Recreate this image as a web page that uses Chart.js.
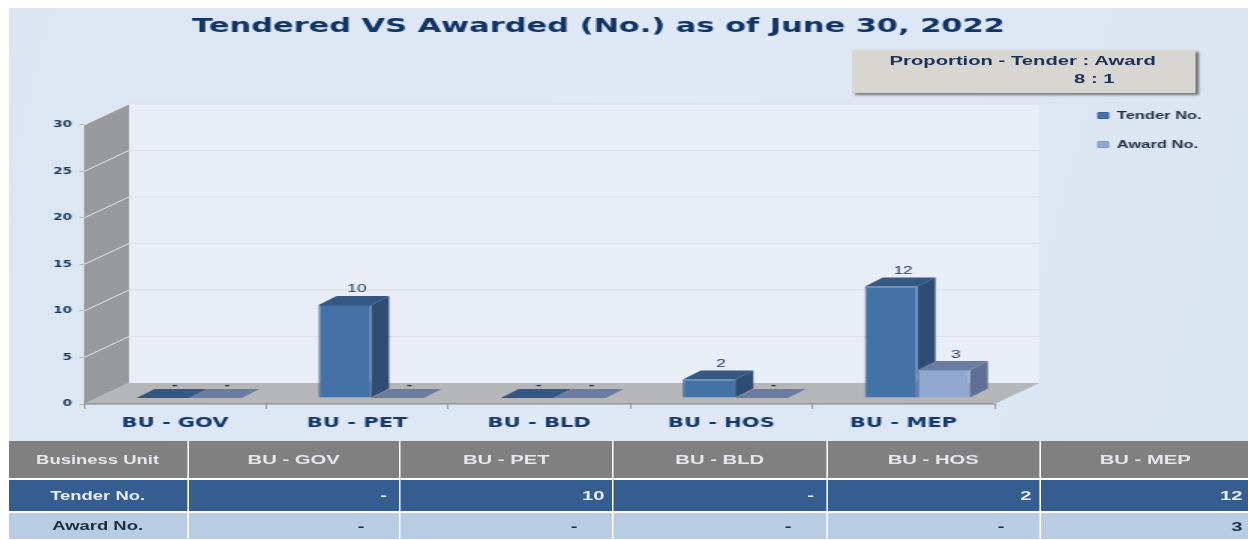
<!DOCTYPE html>
<html>
<head>
<meta charset="utf-8">
<script src="https://cdn.jsdelivr.net/npm/chart.js@4"></script>
<style>
  html, body { margin: 0; padding: 0; background: #fff; overflow: hidden; }
  /* the reference is a squeezed screenshot stretched wide, so the whole stage is stretched too */
  #stage { position: relative; width: 832px; height: 540px; transform: scaleX(1.5); transform-origin: 0 0;
           font-family: "Liberation Sans", Arial, sans-serif; }
  #bg { position: absolute; left: 5.5px; top: 8px; right: 0; height: 532px;
        background: linear-gradient(100deg, #dce6f3 0%, #dfe8f4 50%, #dae5f2 100%); }
  #graph { position: absolute; left: 0; top: 0; }
  #proportion { position: absolute; left: 568px; top: 50px; width: 229px; height: 43px; background: #d8d6d1;
                box-shadow: 2px 2px 2px #777; color: #1c3157; font-weight: bold; font-size: 13.5px; line-height: 18px; }
  #proportion div { position: absolute; white-space: nowrap; }
  #dataTable { position: absolute; left: 5.5px; top: 441px; width: 826.5px; table-layout: fixed;
               border-collapse: collapse; font-size: 13.5px; }
  #dataTable td { border: 1.4px solid #fff; border-width: 0 1.4px 2px 1.4px; padding: 0 5px 0 0; text-align: right;
                  font-weight: bold; box-sizing: border-box; }
  #dataTable td:first-child { text-align: center; border-left: 0; padding: 0; font-size: 12.3px; }
  #dataTable tr.head td { background: #808080; color: #e4e6ea; text-align: center; height: 38px; padding: 0; }
  #dataTable tr.tender td { background: #355d90; color: #e6ecf4; height: 33px; }
  #dataTable tr.award td { background: #b8cce4; color: #1f2d44; height: 28px; }
  #dataTable tr.tender td.dash { padding-right: 8px; }
  #dataTable tr.award td.dash { padding-right: 23px; }
</style>
</head>
<body>
<div id="stage">
  <div id="bg"></div>
  <canvas id="graph" width="832" height="440"></canvas>
  <div id="proportion">
    <div style="left:25px;top:2px">Proportion - Tender : Award</div>
    <div style="left:148px;top:20px">8 : 1</div>
  </div>
  <table id="dataTable"></table>
</div>
<script>
const chartTitle = 'Tendered VS Awarded (No.) as of June 30, 2022';
const categories = ['BU - GOV', 'BU - PET', 'BU - BLD', 'BU - HOS', 'BU - MEP'];
const tenderValues = [0, 10, 0, 2, 12];
const awardValues = [0, 0, 0, 0, 3];
const seriesNames = ['Tender No.', 'Award No.'];
const tableHeader = 'Business Unit';

const navy = '#17375e';
// depth of the fake 3D box and of the bars, in canvas pixels
const wallX = 30, wallY = 21;
const barX = 12, barY = 9;
const shiftX = 9.3, shiftY = 6;

const faceColors = [
  { top: '#345783', side: '#2f4c74' },
  { top: '#6a7da0', side: '#5f7094' }
];

function polygon(ctx, points, fill, stroke) {
  ctx.beginPath();
  points.forEach((p, i) => (i ? ctx.lineTo(p[0], p[1]) : ctx.moveTo(p[0], p[1])));
  ctx.closePath();
  ctx.fillStyle = fill;
  ctx.fill();
  if (stroke) {
    ctx.strokeStyle = stroke;
    ctx.lineWidth = 1;
    ctx.stroke();
  }
}

function CreateBoxPlugin() {
  return {
    id: 'boxPlugin',
    afterLayout: (chart) => {
      // title and legend sit outside the plot, where the layout does not put them
      chart.titleBlock.left = 0;
      chart.titleBlock.right = 798;
      chart.legend.left = 714;
      chart.legend.right = 832;
      chart.legend.top = 92;
      chart.legend.bottom = 200;
    },
    beforeDraw: (chart) => {
      const ctx = chart.ctx;
      const { left, right, top, bottom } = chart.chartArea;
      const yAxis = chart.scales.y;

      polygon(ctx, [[left + wallX, top - wallY], [right + wallX, top - wallY], [right + wallX, bottom - wallY], [left + wallX, bottom - wallY]], '#e8edf6');
      polygon(ctx, [[left, top], [left + wallX, top - wallY], [left + wallX, bottom - wallY], [left, bottom]], '#98999b');
      polygon(ctx, [[left, bottom], [left + wallX, bottom - wallY], [right + wallX, bottom - wallY], [right, bottom]], '#b4b6b8');

      yAxis.ticks.forEach((tick) => {
        const y = yAxis.getPixelForValue(tick.value);
        if (tick.value > 0) {
          ctx.strokeStyle = '#e0dee6';
          ctx.lineWidth = 1;
          ctx.beginPath();
          ctx.moveTo(left + wallX, y - wallY);
          ctx.lineTo(right + wallX, y - wallY);
          ctx.stroke();
          ctx.strokeStyle = '#e4e6ea';
          ctx.beginPath();
          ctx.moveTo(left, y);
          ctx.lineTo(left + wallX, y - wallY);
          ctx.stroke();
        }
      });
      ctx.strokeStyle = '#7f8183';
      ctx.lineWidth = 1;
      ctx.beginPath();
      ctx.moveTo(left, bottom);
      ctx.lineTo(right, bottom);
      ctx.stroke();
    },
    beforeDatasetsDraw: (chart) => {
      const ctx = chart.ctx;
      ctx.save();
      ctx.translate(shiftX, -shiftY);
      // top and side faces first, the library then draws the front faces over them
      chart.data.datasets.forEach((ds, i) => {
        chart.getDatasetMeta(i).data.forEach((bar) => {
          const x0 = bar.x - bar.width / 2;
          const x1 = bar.x + bar.width / 2;
          polygon(ctx, [[x0, bar.y], [x0 + barX, bar.y - barY], [x1 + barX, bar.y - barY], [x1, bar.y]], faceColors[i].top);
          polygon(ctx, [[x1, bar.y], [x1 + barX, bar.y - barY], [x1 + barX, bar.base - barY], [x1, bar.base]], faceColors[i].side);
        });
      });
    },
    afterDatasetsDraw: (chart) => {
      const ctx = chart.ctx;
      chart.data.datasets.forEach((ds, i) => {
        chart.getDatasetMeta(i).data.forEach((bar, j) => {
          const value = ds.data[j];
          ctx.fillStyle = navy;
          ctx.font = (value ? '' : 'bold ') + '11.5px "Liberation Sans"';
          ctx.textAlign = 'center';
          ctx.textBaseline = 'bottom';
          ctx.fillText(value ? String(value) : '-', bar.x + barX / 2 + 2, bar.y - barY - (value ? 1 : -2));
        });
      });
      ctx.restore();
    }
  };
}

function CreateChartConfig() {
  return {
    type: 'bar',
    data: {
      labels: categories,
      datasets: [
        { label: seriesNames[0], data: tenderValues, backgroundColor: '#4472a6', borderColor: '#3c6596', borderWidth: 1 },
        { label: seriesNames[1], data: awardValues, backgroundColor: '#90a8d0', borderColor: '#7f97c0', borderWidth: 1 }
      ]
    },
    options: {
      responsive: false,
      animation: false,
      layout: { padding: { left: 0, right: 169, top: 0, bottom: 0 } },
      datasets: { bar: { categoryPercentage: 0.577, barPercentage: 1 } },
      scales: {
        x: {
          afterFit: (scale) => { scale.height = 36; },
          border: { display: false },
          grid: { drawOnChartArea: false, drawTicks: true, tickLength: 5, color: '#9a9c9e' },
          ticks: { color: '#123a6b', font: { family: 'DejaVu Sans', size: 14, weight: 'bold' }, padding: 6, maxRotation: 0 }
        },
        y: {
          min: 0,
          max: 30,
          afterFit: (scale) => { scale.width = 56; },
          border: { display: false },
          grid: { drawOnChartArea: false, drawTicks: true, tickLength: 3, color: '#b4b6b8' },
          ticks: { stepSize: 5, color: navy, font: { family: 'DejaVu Sans', size: 9, weight: 'bold' }, padding: 5 }
        }
      },
      plugins: {
        tooltip: { enabled: false },
        title: {
          display: true,
          text: chartTitle,
          color: '#0f3566',
          font: { family: 'DejaVu Sans', size: 20.3, weight: 'bold' },
          padding: { top: 14.5, bottom: 86.1 }
        },
        legend: {
          position: 'chartArea',
          align: 'start',
          labels: {
            boxWidth: 7,
            boxHeight: 6,
            padding: 18,
            color: '#1f2d44',
            font: { family: 'Liberation Sans', size: 11, weight: 'bold' }
          }
        }
      }
    },
    plugins: [CreateBoxPlugin()]
  };
}

function BuildTable() {
  const dash = (v) => (v ? String(v) : '-');
  const widths = [179.5, 212, 213, 214, 213, 211].map((w) => w / 1.5);
  const cols = '<colgroup>' + widths.map((w) => `<col style="width:${w}px">`).join('') + '</colgroup>';
  const row = (cls, name, values) => `<tr class="${cls}"><td>${name}</td>` +
    values.map((v) => `<td class="${v ? '' : 'dash'}">${dash(v)}</td>`).join('') + '</tr>';
  const head = `<tr class="head"><td>${tableHeader}</td>` + categories.map((c) => `<td>${c}</td>`).join('') + '</tr>';
  document.getElementById('dataTable').innerHTML = cols + head +
    row('tender', seriesNames[0], tenderValues) + row('award', seriesNames[1], awardValues);
}

BuildTable();
new Chart(document.getElementById('graph'), CreateChartConfig());
</script>
</body>
</html>
